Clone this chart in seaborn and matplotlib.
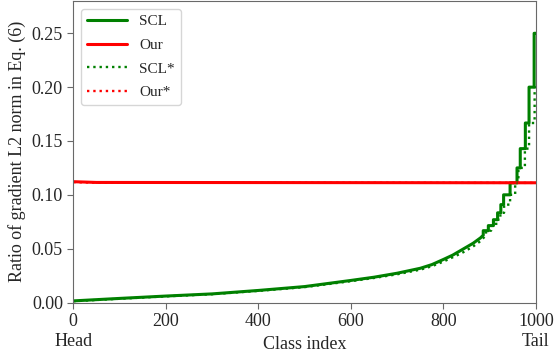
import numpy as np
import pandas as pd
import matplotlib
matplotlib.use('Agg')
import matplotlib.pyplot as plt
import seaborn as sns

# Values (class index, ratio)
scl_x = [0, 100, 200, 300, 400, 500, 600, 650, 700, 750, 775, 800, 820, 840, 864,
         880, 886, 886, 897, 897, 908, 908, 917, 917, 924, 924, 930, 930,
         944, 944, 959, 959, 966, 966, 977, 977, 985, 985, 996, 996, 1000]
scl_y = [0.0015, 0.0038, 0.0060, 0.0080, 0.0112, 0.0148, 0.0205, 0.0235, 0.0272,
         0.0318, 0.0352, 0.0400, 0.0440, 0.0490, 0.0550, 0.0600, 0.0625, 0.0667,
         0.0667, 0.0714, 0.0714, 0.0769, 0.0769, 0.0833, 0.0833, 0.0909, 0.0909,
         0.1000, 0.1000, 0.1111, 0.1111, 0.1250, 0.1250, 0.1429, 0.1429, 0.1667,
         0.1667, 0.2000, 0.2000, 0.2500, 0.2500]

scl_star_x = [0, 100, 200, 300, 400, 500, 600, 650, 700, 750, 775, 800, 820, 840,
              864, 880, 892, 892, 903, 903, 914, 914, 923, 923, 931, 931, 944,
              944, 955, 955, 962, 962, 976, 976, 985, 985, 997, 997, 1000]
scl_star_y = [0.0012, 0.0035, 0.0057, 0.0077, 0.0108, 0.0143, 0.0198, 0.0228,
              0.0262, 0.0305, 0.0337, 0.0380, 0.0420, 0.0460, 0.0520, 0.0570,
              0.0625, 0.0667, 0.0667, 0.0714, 0.0714, 0.0769, 0.0769, 0.0833,
              0.0833, 0.0909, 0.0909, 0.1000, 0.1000, 0.1111, 0.1111, 0.1250,
              0.1250, 0.1429, 0.1429, 0.1667, 0.1667, 0.2000, 0.2000]

our_x = [0, 50, 1000]
our_y = [0.1122, 0.1115, 0.1112]
our_star_x = [0, 50, 1000]
our_star_y = [0.1118, 0.1113, 0.1111]

yticks = [0.00, 0.05, 0.10, 0.15, 0.20, 0.25]
xticks = [0, 200, 400, 600, 800, 1000]
xtick_labels = ['0\nHead', '200', '400', '600', '800', '1000\nTail']

sns.set_style('ticks')
plt.rcParams['font.family'] = ['Liberation Serif', 'DejaVu Serif']

fig = plt.figure(figsize=(5.54, 3.58), dpi=100)
ax = fig.add_axes([0.1323, 0.155, 0.8352, 0.8422])

sns.lineplot(x=scl_x, y=scl_y, ax=ax, color='green', lw=2.2, label='SCL',
             estimator=None, sort=False)
sns.lineplot(x=our_x, y=our_y, ax=ax, color='red', lw=2.2, label='Our',
             estimator=None, sort=False)
sns.lineplot(x=scl_star_x, y=scl_star_y, ax=ax, color='green', lw=1.7,
             linestyle=':', label='SCL*', estimator=None, sort=False)
sns.lineplot(x=our_star_x, y=our_star_y, ax=ax, color='red', lw=1.7,
             linestyle=':', label='Our*', estimator=None, sort=False)

ax.set_xlim(0, 1000)
ax.set_ylim(0, 0.28)
ax.set_yticks(yticks)
ax.set_yticklabels([f'{v:.2f}' for v in yticks])
ax.set_xticks(xticks)
ax.set_xticklabels(xtick_labels)
ax.tick_params(labelsize=13, color='dimgray', length=4)

for s in ax.spines.values():
    s.set_color('dimgray')
    s.set_visible(True)

ax.set_xlabel('Class index', fontsize=13)
ax.xaxis.set_label_coords(0.5, -0.11)
ax.set_ylabel('Ratio of gradient L2 norm in Eq. (6)', fontsize=13)

ax.legend(loc='upper left', fontsize=11, handlelength=2.6, labelspacing=0.65)

fig.savefig('out.png', dpi=100)
